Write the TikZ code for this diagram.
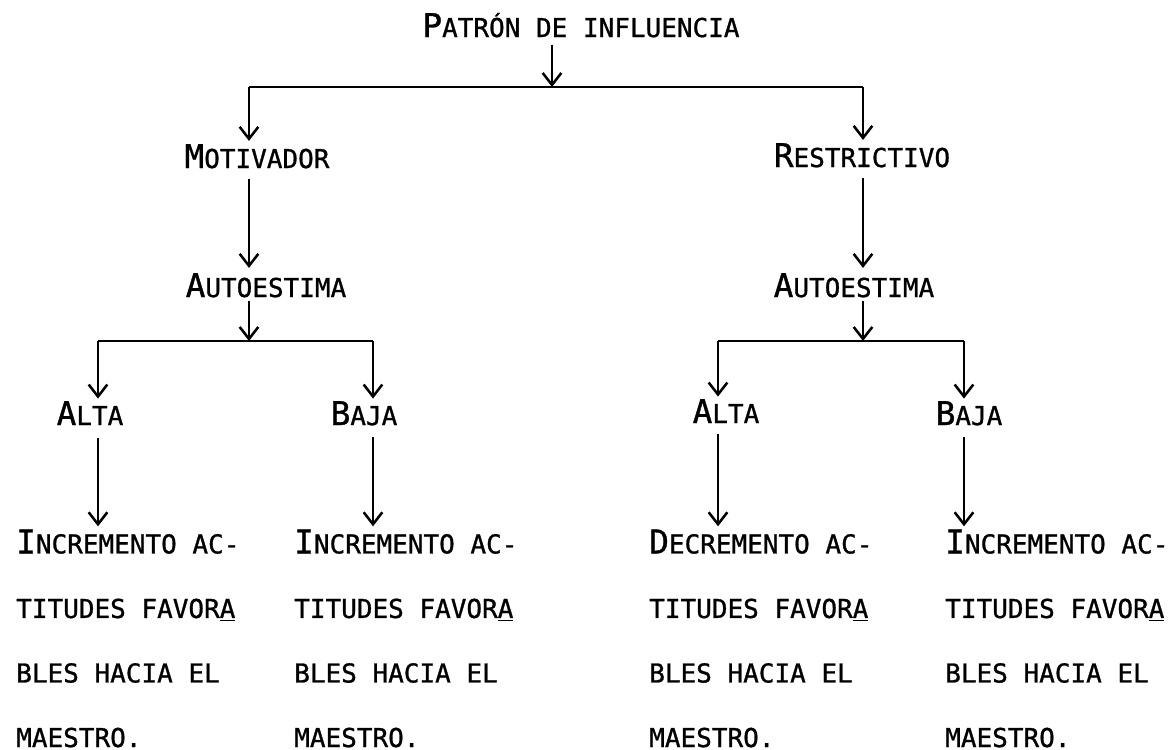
\documentclass[tikz,border=0pt]{standalone}
\usepackage{fontspec}
\usetikzlibrary{arrows.meta}
\newfontfamily\maq[FakeBold=1]{DejaVu Sans Mono}
\begin{document}
\begin{tikzpicture}[>={Straight Barb[length=9pt,width=14pt]},x=0.75pt,y=-0.75pt,line width=1.9pt,
		rot/.style={inner sep=0pt,anchor=base,font=\maq\fontsize{19.5}{22}\selectfont},
		bloque/.style={inner sep=0pt,anchor=base west,align=left,font=\maq\fontsize{19.5}{48.4}\selectfont}]
	\def\Ma#1{{\fontsize{24.5}{26}\selectfont #1}} % letra mayor de las versalitas
	\path[use as bounding box,fill=white] (0,0) rectangle (1168,750);
	% nodos
	\node[rot] (pat) at (581,37) {\Ma{P}ATRÓN DE INFLUENCIA};
	\node[rot] (mot) at (257,168) {\Ma{M}OTIVADOR};
	\node[rot] (res) at (862,167) {\Ma{R}ESTRICTIVO};
	\node[rot] (aut1) at (266,297) {\Ma{A}UTOESTIMA};
	\node[rot] (aut2) at (854,297) {\Ma{A}UTOESTIMA};
	\node[rot] (alta1) at (90,425) {\Ma{A}LTA};
	\node[rot] (baja1) at (364,425) {\Ma{B}AJA};
	\node[rot] (alta2) at (726,423) {\Ma{A}LTA};
	\node[rot] (baja2) at (969,425) {\Ma{B}AJA};
	% el ancla base es la ultima linea
	\node[bloque] (t1) at (15,747) {\Ma{I}NCREMENTO AC-\\TITUDES FAVOR\underline{A}\\BLES HACIA EL\\MAESTRO.};
	\node[bloque] (t2) at (293,747) {\Ma{I}NCREMENTO AC-\\TITUDES FAVOR\underline{A}\\BLES HACIA EL\\MAESTRO.};
	\node[bloque] (t3) at (648,747) {\Ma{D}ECREMENTO AC-\\TITUDES FAVOR\underline{A}\\BLES HACIA EL\\MAESTRO.};
	\node[bloque] (t4) at (944,747) {\Ma{I}NCREMENTO AC-\\TITUDES FAVOR\underline{A}\\BLES HACIA EL\\MAESTRO.};
	% puntos de las barras
	\coordinate (r0) at (552,87);
	\coordinate (r1) at (249,87);
	\coordinate (r2) at (863,87);
	\coordinate (s1) at (249,341);
	\coordinate (s1i) at (98,341);
	\coordinate (s1d) at (373,341);
	\coordinate (s2) at (863,341);
	\coordinate (s2i) at (718,341);
	\coordinate (s2d) at (964,341);
	% conectores
	\draw[->,shorten <=4.5pt] (r0 |- pat.south) -- (r0);
	\draw (r1) -- (r2);
	\draw[->,shorten >=1.5pt] (r1) -- (r1 |- mot.north);
	\draw[->,shorten >=1.5pt] (r2) -- (r2 |- res.north);
	\draw[->,shorten <=7pt,shorten >=3pt] (r1 |- mot.south) -- (r1 |- aut1.north);
	\draw[->,shorten <=7pt,shorten >=3pt] (r2 |- res.south) -- (r2 |- aut2.north);
	\draw[->,shorten <=2pt] (s1 |- aut1.south) -- (s1);
	\draw[->,shorten <=2pt] (s2 |- aut2.south) -- (s2);
	\draw (s1i) -- (s1d) (s2i) -- (s2d);
	\draw[->,shorten >=1pt] (s1i) -- (s1i |- alta1.north);
	\draw[->,shorten >=1pt] (s1d) -- (s1d |- baja1.north);
	\draw[->,shorten >=1pt] (s2i) -- (s2i |- alta2.north);
	\draw[->,shorten >=1pt] (s2d) -- (s2d |- baja2.north);
	\draw[->,shorten <=9pt,shorten >=1.5pt] (s1i |- alta1.south) -- (s1i |- t1.north);
	\draw[->,shorten <=8pt,shorten >=1.5pt] (s1d |- baja1.south) -- (s1d |- t2.north);
	\draw[->,shorten <=7pt,shorten >=1.5pt] (s2i |- alta2.south) -- (s2i |- t3.north);
	\draw[->,shorten <=8pt,shorten >=1.5pt] (s2d |- baja2.south) -- (s2d |- t4.north);
\end{tikzpicture}
\end{document}
